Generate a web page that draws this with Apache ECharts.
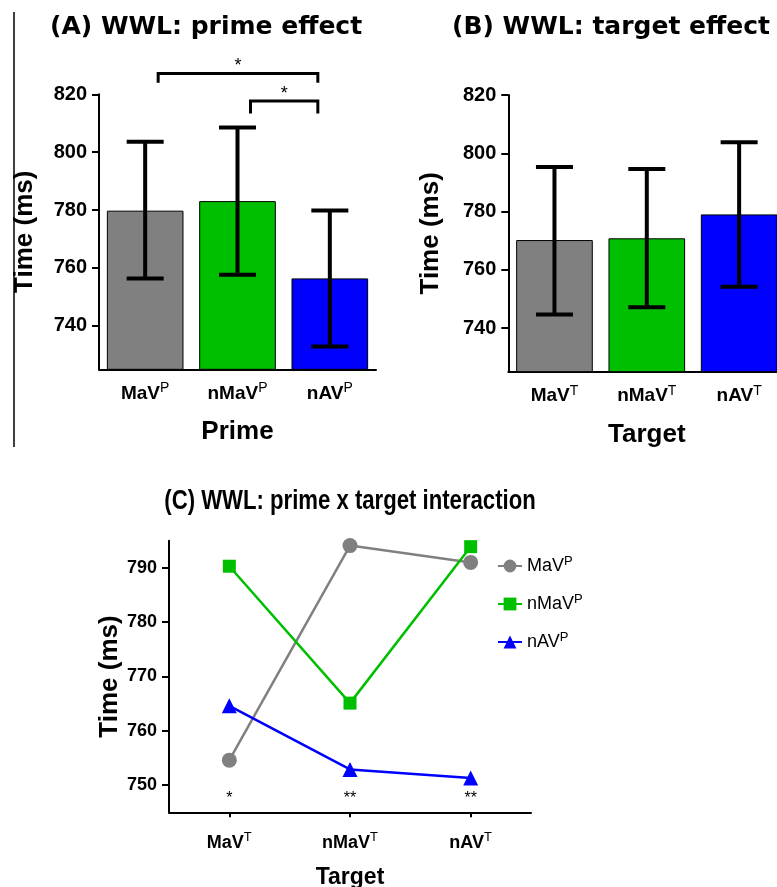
<!DOCTYPE html>
<html>
<head>
<meta charset="utf-8">
<script src="https://cdn.jsdelivr.net/npm/echarts@6/dist/echarts.min.js"></script>
<style>
html, body { margin: 0; padding: 0; background: #fff; }
#main { width: 777px; height: 887px; }
</style>
</head>
<body>
<div id="main"></div>
<script>
// categories
var conds = ['MaV', 'nMaV', 'nAV'];
var barColors = ['#808080', '#00bf00', '#0000ff'];

// (A) prime effect: mean and error bar ends
var primeMean = [779.8, 783.1, 756.4];
var primeLow = [756.4, 757.7, 732.9];
var primeHigh = [803.6, 808.5, 779.9];

// (B) target effect
var targetMean = [770.2, 770.8, 779.0];
var targetLow = [744.6, 747.1, 754.2];
var targetHigh = [795.3, 794.6, 803.8];

var yTicksAB = [740, 760, 780, 800, 820];

// significance brackets in (A): [from, to, top value, end value]
var brackets = [[0, 2, 827.2, 824.0], [1, 2, 817.7, 813.4]];

// (C) prime x target interaction
var lineMaV = [754.6, 794.1, 791.0];
var lineNMaV = [790.3, 765.1, 793.9];
var lineNAV = [764.6, 752.9, 751.3];
var yTicksC = [750, 760, 770, 780, 790];
var sigStars = ['*', '**', '**'];
var starValue = 747.5;

var AR = '"Liberation Sans", Arial, sans-serif';
var DV = '"DejaVu Sans", sans-serif';

var chart = echarts.init(document.getElementById('main'));

function supRich(size, lift) {
    return {
        sup: { fontFamily: AR, fontSize: size, fontWeight: 'normal', color: '#000',
               verticalAlign: 'top', padding: [0, 0, lift, 0] }
    };
}

function catAxis(grid, sup, name, size, nameSize, margin, gap, tick) {
    return {
        gridIndex: grid,
        type: 'category',
        data: conds,
        axisLine: { lineStyle: { color: '#000', width: 2 } },
        axisTick: { show: tick, alignWithLabel: true, length: 5, lineStyle: { color: '#000', width: 2 } },
        axisLabel: {
            interval: 0,
            formatter: function (v) { return v + '{sup|' + sup + '}'; },
            margin: margin,
            color: '#000',
            fontFamily: AR,
            fontWeight: 'bold',
            fontSize: size,
            rich: supRich(Math.round(size * 0.72), 10)
        },
        name: name,
        nameLocation: 'middle',
        nameGap: gap,
        nameTextStyle: { fontFamily: AR, fontWeight: 'bold', fontSize: nameSize, color: '#000' }
    };
}

function valAxis(grid, min, max, ticks, size, gap) {
    return {
        gridIndex: grid,
        type: 'value',
        min: min,
        max: max,
        axisLine: { show: true, lineStyle: { color: '#000', width: 2 } },
        axisTick: { show: true, length: 7, customValues: ticks, lineStyle: { color: '#000', width: 2 } },
        axisLabel: { customValues: ticks, margin: 12, color: '#000', fontFamily: AR, fontWeight: 'bold', fontSize: size },
        splitLine: { show: false },
        name: 'Time (ms)',
        nameLocation: 'middle',
        nameGap: gap,
        nameTextStyle: { fontFamily: AR, fontWeight: 'bold', fontSize: 26, color: '#000' }
    };
}

function barSeries(idx, means) {
    return {
        type: 'bar',
        xAxisIndex: idx,
        yAxisIndex: idx,
        barCategoryGap: '17%',
        itemStyle: { borderColor: '#000', borderWidth: 1 },
        data: means.map(function (v, i) {
            return { value: v, itemStyle: { color: barColors[i] } };
        })
    };
}

function errorSeries(idx, low, high) {
    return {
        type: 'custom',
        xAxisIndex: idx,
        yAxisIndex: idx,
        z: 10,
        data: conds.map(function (c, i) { return [i, low[i], high[i]]; }),
        encode: { x: 0, y: [1, 2] },
        renderItem: function (params, api) {
            var i = api.value(0);
            var top = api.coord([i, api.value(2)]);
            var bot = api.coord([i, api.value(1)]);
            var hw = 18.5;
            var st = { stroke: '#000', lineWidth: 4 };
            return {
                type: 'group',
                children: [
                    { type: 'line', shape: { x1: top[0], y1: top[1], x2: bot[0], y2: bot[1] }, style: st },
                    { type: 'line', shape: { x1: top[0] - hw, y1: top[1], x2: top[0] + hw, y2: top[1] }, style: st },
                    { type: 'line', shape: { x1: bot[0] - hw, y1: bot[1], x2: bot[0] + hw, y2: bot[1] }, style: st }
                ]
            };
        }
    };
}

var option = {
    animation: false,
    backgroundColor: '#fff',
    title: [
        { text: '(A) WWL: prime effect', left: 50, top: 15, padding: 0,
          textStyle: { fontFamily: DV, fontWeight: 'bold', fontSize: 25, color: '#000' } },
        { text: '(B) WWL: target effect', left: 452, top: 15, padding: 0,
          textStyle: { fontFamily: DV, fontWeight: 'bold', fontSize: 25, color: '#000' } }
    ],
    graphic: [
        { type: 'line', shape: { x1: 14, y1: 12, x2: 14, y2: 447 }, style: { stroke: '#000', lineWidth: 1.5 } },
        // panel C heading, narrow bold as in the original
        { type: 'text', x: 350, y: 502, scaleX: 0.82,
          style: { text: '(C) WWL: prime x target interaction', x: 0, y: 0, align: 'center', verticalAlign: 'middle',
                   fontFamily: AR, fontWeight: 'bold', fontSize: 27, fill: '#000' } }
    ],
    legend: {
        left: 492,
        top: 550,
        orient: 'vertical',
        itemWidth: 24,
        itemHeight: 16,
        itemGap: 18,
        data: conds,
        formatter: function (n) { return n + '{sup|P}'; },
        textStyle: { fontFamily: AR, fontSize: 18, color: '#000', rich: supRich(13, 9) }
    },
    grid: [
        { left: 99, top: 94.3, width: 277, height: 275, outerBoundsMode: 'none' },
        { left: 508.3, top: 95, width: 277, height: 276.7, outerBoundsMode: 'none' },
        { left: 169, top: 540.7, width: 362, height: 271.6, outerBoundsMode: 'none' }
    ],
    xAxis: [
        catAxis(0, 'P', 'Prime', 19, 26, 12, 50, false),
        catAxis(1, 'T', 'Target', 19, 26, 12, 50, false),
        catAxis(2, 'T', 'Target', 18, 23, 19, 54, true)
    ],
    yAxis: [
        valAxis(0, 725, 820, yTicksAB, 20, 61),
        valAxis(1, 725, 820, yTicksAB, 20, 64),
        valAxis(2, 745, 795, yTicksC, 18, 36)
    ],
    series: [
        barSeries(0, primeMean),
        errorSeries(0, primeLow, primeHigh),
        {
            type: 'custom',
            xAxisIndex: 0,
            yAxisIndex: 0,
            z: 10,
            data: brackets,
            encode: { x: [0, 1], y: [2, 3] },
            renderItem: function (params, api) {
                var a = api.coord([api.value(0), api.value(2)]);
                var b = api.coord([api.value(1), api.value(2)]);
                var d = api.coord([api.value(0), api.value(3)]);
                var x1 = a[0] + 13, x2 = b[0] - 12;
                return {
                    type: 'group',
                    children: [
                        { type: 'polyline', shape: { points: [[x1, d[1]], [x1, a[1]], [x2, a[1]], [x2, d[1]]] },
                          style: { stroke: '#000', lineWidth: 3, fill: null } },
                        { type: 'text', style: { text: '*', x: (x1 + x2) / 2, y: a[1] + 2, align: 'center', verticalAlign: 'bottom',
                          fontFamily: AR, fontSize: 18, fill: '#000' } }
                    ]
                };
            }
        },
        barSeries(1, targetMean),
        errorSeries(1, targetLow, targetHigh),
        {
            name: 'MaV', type: 'line', xAxisIndex: 2, yAxisIndex: 2, data: lineMaV,
            symbol: 'circle', symbolSize: 15,
            lineStyle: { color: '#808080', width: 2.5 }, itemStyle: { color: '#808080' }
        },
        {
            name: 'nMaV', type: 'line', xAxisIndex: 2, yAxisIndex: 2, data: lineNMaV,
            symbol: 'rect', symbolSize: 13,
            lineStyle: { color: '#00bf00', width: 2.5 }, itemStyle: { color: '#00bf00' }
        },
        {
            name: 'nAV', type: 'line', xAxisIndex: 2, yAxisIndex: 2, data: lineNAV,
            symbol: 'triangle', symbolSize: 15,
            lineStyle: { color: '#0000ff', width: 2.5 }, itemStyle: { color: '#0000ff' }
        },
        {
            type: 'custom',
            xAxisIndex: 2,
            yAxisIndex: 2,
            data: conds.map(function (c, i) { return [i, starValue]; }),
            renderItem: function (params, api) {
                var p = api.coord([api.value(0), api.value(1)]);
                return { type: 'text', style: { text: sigStars[params.dataIndex], x: p[0], y: p[1], align: 'center',
                    verticalAlign: 'middle', fontFamily: AR, fontSize: 16, fill: '#000' } };
            }
        }
    ]
};

chart.setOption(option);
</script>
</body>
</html>
